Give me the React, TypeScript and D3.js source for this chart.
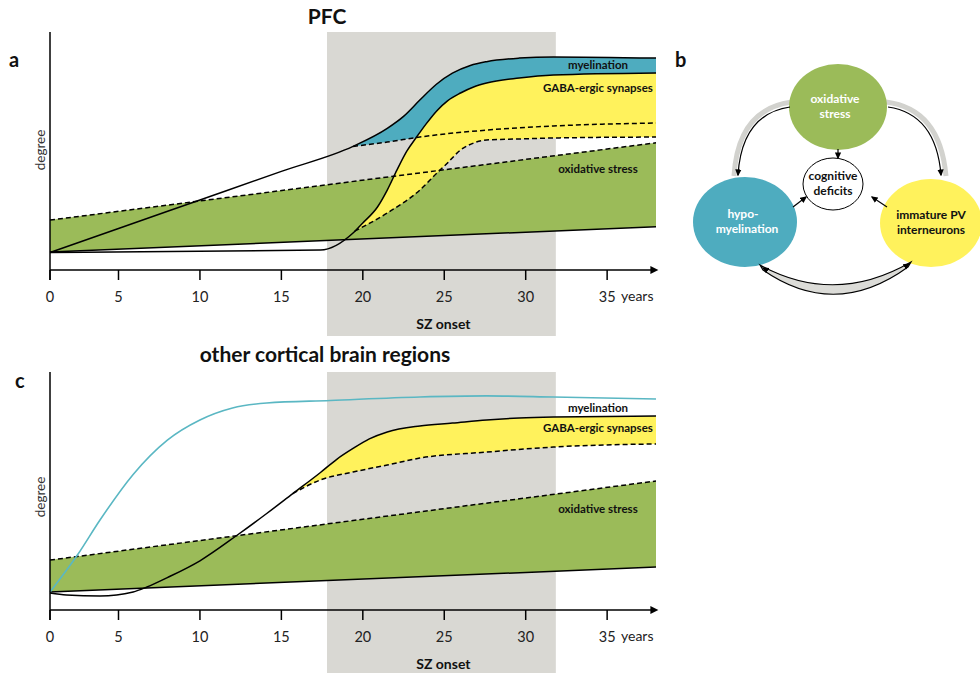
import React from 'react';
import * as d3 from 'd3';

type P = [number, number];

// ---------- data ----------
const yearTicks = [0, 5, 10, 15, 20, 25, 30, 35];
const szOnset: P = [17.8, 31.85];

// PFC (panel a) — [years, degree]
const pfcOxLow: P[] = [[0, 7.5], [38, 18]];
const pfcOxHigh: P[] = [[0, 20.8], [38, 53]];
const pfcMyelin: P[] = [[0, 7.3], [5, 17.3], [10, 29.2], [15, 41.1], [19.4, 51.5], [21.5, 59], [22.5, 64], [23.5, 70.8], [24.5, 77.3], [25.5, 82], [26.6, 85.2], [27.6, 86.8], [29.6, 88.3], [31.7, 88.8], [38, 88.3]];
const pfcMyelinLow: P[] = [[19.4, 51.5], [21.5, 53.3], [23.5, 55.4], [27.6, 58.3], [31.7, 60], [38, 61.25]];
const pfcGaba: P[] = [[0, 7.3], [17.4, 8.3], [19.4, 15.4], [20, 19.6], [20.9, 26.25], [21.5, 33.3], [22.1, 41.7], [22.7, 49.5], [23.3, 55.4], [23.9, 61], [24.55, 66.4], [25.2, 70.5], [26, 73.75], [26.8, 76.25], [27.6, 77.9], [29.6, 80], [31.7, 81.25], [38, 82.1]];
const pfcGabaLow: P[] = [[19.5, 16.2], [21.5, 23.75], [23.5, 33.3], [24.55, 40.4], [25.2, 44.6], [26, 50], [26.8, 52.9], [27.6, 54.2], [29.6, 54.6], [31.7, 55], [38, 55.4]];

// other cortical regions (panel c)
const ctxOxLow: P[] = [[0, 7.5], [38, 17.9]];
const ctxOxHigh: P[] = [[0, 20.8], [38, 53.75]];
const ctxMyelin: P[] = [[0, 7.5], [2, 22.9], [3.65, 37.5], [5.9, 56.5], [8, 70.8], [10, 79.2], [12, 84.2], [14.1, 86.25], [18, 87.3], [23.5, 88.75], [27.6, 89.2], [31.7, 88.75], [38, 87.9]];
const ctxGaba: P[] = [[0, 7.1], [1.2, 6.25], [3.65, 5.8], [5.9, 7.5], [6.75, 9.6], [8, 13.5], [10, 20.5], [12.3, 31.25], [14.1, 40.2], [15.7, 48.5], [17.4, 57.3], [18.4, 62.8], [19.4, 67.3], [20.4, 71.3], [21.5, 74.2], [23.5, 76.7], [25.5, 77.9], [27.6, 79.2], [29.6, 80], [31.7, 80.4], [38, 80.8]];
const ctxGabaLow: P[] = [[15.7, 48.5], [17.4, 54.2], [19.4, 57.5], [21.5, 60.4], [23.5, 63.3], [27.6, 65.8], [31.7, 67.9], [38, 69.2]];

const seriesLabels = ['myelination', 'GABA-ergic synapses', 'oxidative stress'];

// ---------- styles ----------
const GREEN = '#9bbb59';
const TEAL = '#4eacbf';
const TEAL_LINE = '#5ab7c3';
const YELLOW = '#fff25c';
const BAND = '#d9d8d3';
const FONT = "Lato, 'Open Sans', sans-serif";

const W = 980, H = 673;
const x = d3.scaleLinear().domain([0, 5, 38]).range([50, 118.5, 656]);
const yA = d3.scaleLinear().domain([0, 100]).range([270, 30]);
const yC = d3.scaleLinear().domain([0, 100]).range([610, 370]);

const lineGen = (y: d3.ScaleLinear<number, number>) =>
  d3.line<P>().x(d => x(d[0])).y(d => y(d[1])).curve(d3.curveMonotoneX);
const areaBelow = (y: d3.ScaleLinear<number, number>) =>
  d3.area<P>().x(d => x(d[0])).y0(y(-20)).y1(d => y(d[1])).curve(d3.curveMonotoneX);
const areaAbove = (y: d3.ScaleLinear<number, number>) =>
  d3.area<P>().x(d => x(d[0])).y0(y(130)).y1(d => y(d[1])).curve(d3.curveMonotoneX);
const bandArea = (y: d3.ScaleLinear<number, number>, lo: P[], hi: P[]) =>
  d3.area<number>().x(i => x(lo[i][0])).y0(i => y(lo[i][1])).y1(i => y(hi[i][1]))(lo.map((_, i) => i)) || '';

const solid = { fill: 'none', stroke: '#000', strokeWidth: 1.5 };
const dashed = { fill: 'none', stroke: '#000', strokeWidth: 1.5, strokeDasharray: '5,3' };

function Axes({ axisY, top, bandBottom, degreeY }: { axisY: number; top: number; bandBottom: number; degreeY: number }) {
  return (
    <g>
      <line x1={50} x2={50} y1={top} y2={axisY + 10} stroke="#000" strokeWidth={1.5} />
      <line x1={50} x2={652} y1={axisY} y2={axisY} stroke="#000" strokeWidth={1.5} markerEnd="url(#axisArrow)" />
      {yearTicks.map(t => (
        <g key={t}>
          <line x1={x(t)} x2={x(t)} y1={axisY} y2={axisY + 10} stroke="#000" strokeWidth={1.5} />
          <text x={x(t)} y={axisY + 32} textAnchor="middle" fontSize={14.5} fontFamily={FONT} fill="#222">{t}</text>
        </g>
      ))}
      <text x={621} y={axisY + 31} fontSize={14} fontFamily={FONT} fill="#222">years</text>
      <text x={(x(szOnset[0]) + x(szOnset[1])) / 2 + 2} y={bandBottom - 7} textAnchor="middle" fontSize={14} fontWeight="bold" fontFamily={FONT} fill="#111">SZ onset</text>
      <text transform={`translate(45,${degreeY}) rotate(-90)`} textAnchor="middle" fontSize={13.5} fontFamily={FONT} fill="#333">degree</text>
    </g>
  );
}

function SeriesLabels({ ys }: { ys: number[] }) {
  return (
    <g>
      {seriesLabels.map((s, i) => (
        <text key={s} x={598} y={ys[i]} textAnchor="middle" fontSize={11.5} fontWeight="bold" fontFamily={FONT} fill="#111">{s}</text>
      ))}
    </g>
  );
}

function PanelA() {
  const L = lineGen(yA);
  return (
    <g>
      <defs>
        <clipPath id="clipMyelinA"><path d={areaBelow(yA)(pfcMyelin) || ''} /></clipPath>
        <clipPath id="clipGabaA"><path d={areaBelow(yA)(pfcGaba) || ''} /></clipPath>
      </defs>
      <rect x={x(szOnset[0])} y={32} width={x(szOnset[1]) - x(szOnset[0])} height={304} fill={BAND} />
      <path d={bandArea(yA, pfcOxLow, pfcOxHigh)} fill={GREEN} />
      <path d={areaAbove(yA)(pfcMyelinLow) || ''} fill={TEAL} clipPath="url(#clipMyelinA)" />
      <path d={areaAbove(yA)(pfcGabaLow) || ''} fill={YELLOW} clipPath="url(#clipGabaA)" />
      <path d={L(pfcOxLow) || ''} {...solid} />
      <path d={L(pfcOxHigh) || ''} {...dashed} />
      <path d={L(pfcMyelinLow) || ''} {...dashed} />
      <path d={L(pfcGabaLow) || ''} {...dashed} />
      <path d={L(pfcMyelin) || ''} {...solid} />
      <path d={L(pfcGaba) || ''} {...solid} />
      <Axes axisY={270} top={32} bandBottom={336} degreeY={150} />
      <SeriesLabels ys={[69, 92, 173]} />
      <text x={327} y={24} textAnchor="middle" fontSize={21} fontWeight="bold" fontFamily={FONT} fill="#111">PFC</text>
      <text x={9} y={67} fontSize={20} fontWeight="bold" fontFamily={FONT} fill="#111">a</text>
    </g>
  );
}

function PanelC() {
  const L = lineGen(yC);
  return (
    <g>
      <defs>
        <clipPath id="clipGabaC"><path d={areaBelow(yC)(ctxGaba) || ''} /></clipPath>
      </defs>
      <rect x={x(szOnset[0])} y={372} width={x(szOnset[1]) - x(szOnset[0])} height={H - 372} fill={BAND} />
      <path d={bandArea(yC, ctxOxLow, ctxOxHigh)} fill={GREEN} />
      <path d={areaAbove(yC)(ctxGabaLow) || ''} fill={YELLOW} clipPath="url(#clipGabaC)" />
      <path d={L(ctxOxLow) || ''} {...solid} />
      <path d={L(ctxOxHigh) || ''} {...dashed} />
      <path d={L(ctxMyelin) || ''} fill="none" stroke={TEAL_LINE} strokeWidth={1.6} />
      <path d={L(ctxGabaLow) || ''} {...dashed} />
      <path d={L(ctxGaba) || ''} {...solid} />
      <Axes axisY={610} top={372} bandBottom={676} degreeY={497} />
      <SeriesLabels ys={[412, 432, 513]} />
      <text x={325} y={362} textAnchor="middle" fontSize={21} fontWeight="bold" fontFamily={FONT} fill="#111">other cortical brain regions</text>
      <text x={15} y={388} fontSize={20} fontWeight="bold" fontFamily={FONT} fill="#111">c</text>
    </g>
  );
}

const nodes = [
  { id: 'ox', cx: 838, cy: 107, rx: 49, ry: 43, fill: GREEN, color: '#fff', lines: ['oxidative', 'stress'], dx: -3 },
  { id: 'hypo', cx: 745, cy: 222, rx: 52, ry: 45, fill: TEAL, color: '#fff', lines: ['hypo-', 'myelination'], dx: -2 },
  { id: 'pv', cx: 931, cy: 223, rx: 51, ry: 44, fill: YELLOW, color: '#111', lines: ['immature PV', 'interneurons'], dx: 0 },
  { id: 'cog', cx: 833, cy: 184, rx: 30, ry: 26, fill: '#fff', color: '#111', lines: ['cognitive', 'deficits'], dx: 0 },
];

function PanelB() {
  return (
    <g>
      <text x={675} y={67} fontSize={20} fontWeight="bold" fontFamily={FONT} fill="#111">b</text>
      <path d="M792,102 Q738,109 734,176" fill="none" stroke="#d2d2ce" strokeWidth={5} />
      <path d="M886,102 Q940,109 946,176" fill="none" stroke="#d2d2ce" strokeWidth={5} />
      {nodes.map(n => (
        <ellipse key={n.id} cx={n.cx} cy={n.cy} rx={n.rx} ry={n.ry} fill={n.fill} stroke={n.id === 'cog' ? '#000' : 'none'} strokeWidth={1} />
      ))}
      <path d="M790,107 Q742,114 738,175" fill="none" stroke="#000" strokeWidth={1.2} markerEnd="url(#headB)" />
      <path d="M888,107 Q936,114 941,175" fill="none" stroke="#000" strokeWidth={1.2} markerEnd="url(#headB)" />
      <path d="M760,265 Q835,306 911,262 L908,267 Q835,320 763,270 Z" fill="#dcdcd8" stroke="#000" strokeWidth={1.1} />
      <path d="M763,268 Q835,310 909,264" fill="none" stroke="none" markerStart="url(#headB)" markerEnd="url(#headB)" />
      <path d="M838,149 L838,158" stroke="#000" strokeWidth={1.2} markerEnd="url(#headB)" />
      <path d="M793,207 L806,197" stroke="#000" strokeWidth={1.2} markerEnd="url(#headB)" />
      <path d="M887,207 L872,197" stroke="#000" strokeWidth={1.2} markerEnd="url(#headB)" />
      {nodes.map(n => (
        <text key={n.id + 't'} y={n.cy - 4} textAnchor="middle" fontSize={12} fontWeight="bold" fontFamily={FONT} fill={n.color}>
          <tspan x={n.cx + n.dx} dy={0}>{n.lines[0]}</tspan>
          <tspan x={n.cx + n.dx + (n.id === 'hypo' ? 4 : 0)} dy={14.5}>{n.lines[1]}</tspan>
        </text>
      ))}
    </g>
  );
}

export default function App() {
  return (
    <svg width={W} height={H} viewBox={`0 0 ${W} ${H}`} style={{ position: 'absolute', left: 0, top: 0, background: '#fff' }}>
      <defs>
        <marker id="axisArrow" viewBox="0 0 10 10" refX="2" refY="5" markerWidth={9} markerHeight={8} markerUnits="userSpaceOnUse" orient="auto">
          <path d="M0,0 L10,5 L0,10 z" fill="#000" />
        </marker>
        <marker id="headB" viewBox="0 0 10 10" refX="8" refY="5" markerWidth={7} markerHeight={7} markerUnits="userSpaceOnUse" orient="auto-start-reverse">
          <path d="M0,0.5 L10,5 L0,9.5 z" fill="#000" />
        </marker>
      </defs>
      <rect x={0} y={0} width={W} height={H} fill="#fff" />
      <PanelA />
      <PanelC />
      <PanelB />
    </svg>
  );
}
